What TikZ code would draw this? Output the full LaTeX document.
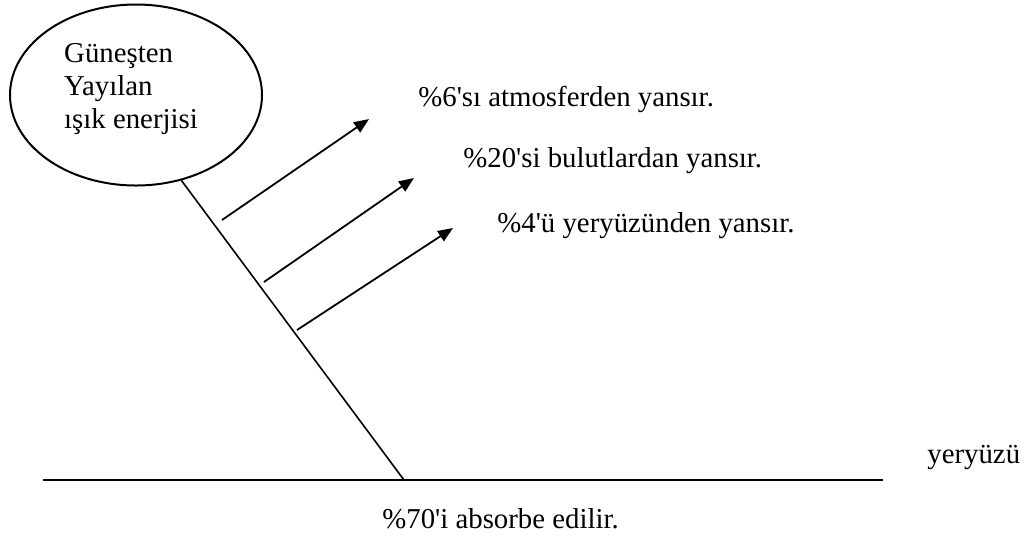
\documentclass[tikz,border=0pt]{standalone}
\usepackage{fontspec}
\setmainfont{Liberation Serif}
\usetikzlibrary{arrows.meta,shapes.geometric}
\tikzset{sunbox/.style={ellipse,draw,line width=1pt,minimum width=126pt,minimum height=90.5pt,inner sep=0pt},
 ray/.style={-{Triangle[length=7.5pt,width=6pt]},line width=0.9pt},
 lbl/.style={anchor=base west,inner sep=0pt}}

\begin{document}
\begin{tikzpicture}[x=0.5pt,y=-0.5pt,font=\fontsize{14.4}{16.5}\selectfont]
 \useasboundingbox (0,0) rectangle (1031,537);
 \node[sunbox] (sun) at (136,95) {};
 \node[align=left,inner sep=0pt] (suntext) at (131,89) {Güneşten\\Yayılan\\ışık enerjisi};
 \coordinate (gl) at (43,480);
 \coordinate (gr) at (883,480);
 \coordinate (hit) at (404,480);
 \draw[line width=1pt] (gl) -- (gr);
 \draw[line width=0.8pt] (sun.-62) -- (hit);
 \foreach \i/\sx/\sy/\ex/\ey in {1/222/220/369/119,2/264/282/414/178,3/297/330/453/228}{
  \coordinate (s\i) at (\sx,\sy);
  \coordinate (e\i) at (\ex,\ey);
  \draw[ray] (s\i) -- (e\i);
 }
 \node[lbl] (atm) at (418,106) {\%6\textquotesingle sı atmosferden yansır.};
 \node[lbl] (bulut) at (463,167) {\%20\textquotesingle si bulutlardan yansır.};
 \node[lbl] (yer) at (497,232) {\%4\textquotesingle ü yeryüzünden yansır.};
 \node[lbl] (ground) at (927,463) {yeryüzü};
 \node[lbl] (absorb) at (382,528) {\%70\textquotesingle i absorbe edilir.};
\end{tikzpicture}
\end{document}
